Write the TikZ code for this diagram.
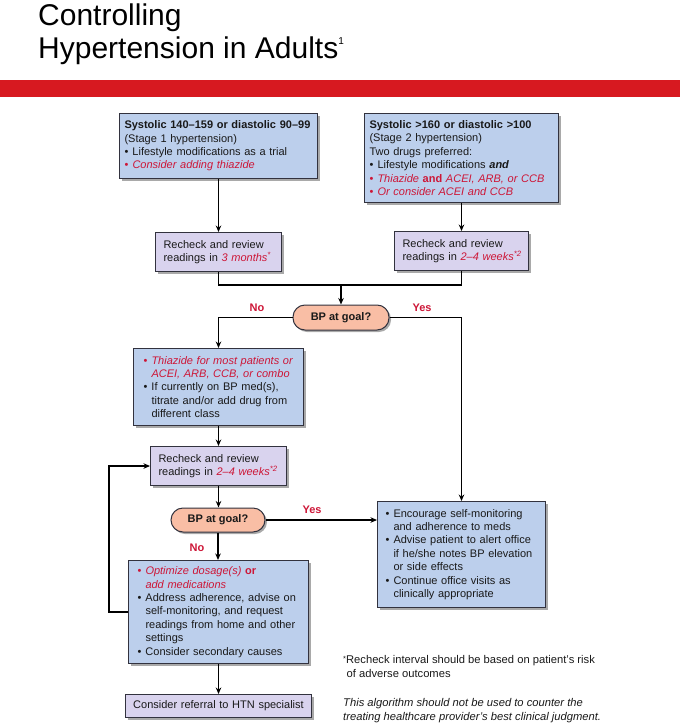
\documentclass[tikz,border=0pt]{standalone}
\usepackage{fontspec}
\setmainfont{Liberation Sans}
\usetikzlibrary{shadows,arrows.meta}
\definecolor{bluebox}{RGB}{188,207,236}
\definecolor{purplebox}{RGB}{217,211,238}
\definecolor{pillfill}{RGB}{249,190,165}
\definecolor{bord}{RGB}{50,50,62}
\definecolor{redtxt}{RGB}{205,22,55}
\definecolor{redbar}{RGB}{215,25,32}
\definecolor{bodytxt}{RGB}{25,25,25}
\newcommand\bul{\makebox[8pt][l]{\textbullet}}
\newcommand\ind{\hspace*{8pt}}
\newcommand\rd[1]{\textcolor{redtxt}{#1}}
\newcommand\supr[1]{\textsuperscript{#1}}
\newcommand\lne[1]{\mbox{#1}}
\begin{document}
\begin{tikzpicture}[x=1pt,y=-1pt,
  box/.style={draw=bord, line width=1pt, anchor=north west, align=left, inner ysep=0pt,
    font=\fontsize{11}{13.4}\selectfont, text=bodytxt,
    drop shadow={shadow xshift=2.5pt,shadow yshift=-2.5pt,fill=black!75,opacity=0.45}},
  bluebx/.style={box, fill=bluebox},
  purbx/.style={box, fill=purplebox},
  pill/.style={draw=bord, line width=1pt, fill=pillfill, rounded corners=12pt,
    font=\bfseries\fontsize{11}{13}\selectfont, text=bodytxt, inner sep=0pt,
    drop shadow={shadow xshift=2pt,shadow yshift=-2pt,fill=black!75,opacity=0.45}},
  arr/.style={line width=1.6pt, -{Stealth[length=6.5pt,width=5.5pt]}},
  ln/.style={line width=1.6pt},
  lab/.style={font=\bfseries\fontsize{11}{13}\selectfont, text=redtxt},
  note/.style={anchor=north west, align=left, inner sep=0pt, text=bodytxt, font=\fontsize{11.2}{14}\selectfont}
]
\useasboundingbox (0,0) rectangle (680,728);

% title
\node (t1) [anchor=base west, inner sep=0pt, font=\fontsize{30}{33}\selectfont] at (38,25) {Controlling};
\node (t2) [anchor=base west, inner sep=0pt, font=\fontsize{30}{33}\selectfont] at (38,58) {Hypertension in Adults\raisebox{14pt}{\fontsize{10}{10}\selectfont 1}};
\fill[redbar] (0,80) rectangle (680,97);

% boxes
\node (b1) [bluebx, inner xsep=5pt, text width=188pt, minimum height=65pt] at (119,113) {%
\lne{\textbf{Systolic 140–159 or diastolic 90–99}}\\
\lne{(Stage 1 hypertension)}\\
\lne{\bul Lifestyle modifications as a trial}\\
\lne{\rd{\bul\itshape Consider adding thiazide}}};

\node (b2) [bluebx, inner xsep=5pt, text width=184pt, minimum height=89pt] at (364,113) {%
\lne{\textbf{Systolic >160 or diastolic >100}}\\
\lne{(Stage 2 hypertension)}\\
\lne{Two drugs preferred:}\\
\lne{\bul Lifestyle modifications \textbf{\textit{and}}}\\
\lne{\rd{\bul\textit{Thiazide} \textbf{and} \textit{ACEI, ARB, or CCB}}}\\
\lne{\rd{\bul\textit{Or consider ACEI and CCB}}}};

\node (r1) [purbx, inner xsep=8pt, text width=110pt, minimum height=39pt] at (155,232) {%
\lne{Recheck and review}\\
\lne{readings in \rd{\itshape 3 months\supr{*}}}};

\node (r2) [purbx, inner xsep=8pt, text width=118pt, minimum height=39pt] at (394,231) {%
\lne{Recheck and review}\\
\lne{readings in \rd{\itshape 2–4 weeks\supr{*2}}}};

\coordinate (m) at (341,285);
\node (p1) [pill, minimum width=96pt, minimum height=25pt] at (341,317.5) {BP at goal?};

\node (b3) [bluebx, inner xsep=10pt, text width=150pt, minimum height=77pt] at (133,348) {%
\lne{\rd{\bul\itshape Thiazide for most patients or}}\\
\lne{\rd{\ind\itshape ACEI, ARB, CCB, or combo}}\\
\lne{\bul If currently on BP med(s),}\\
\lne{\ind titrate and/or add drug from}\\
\lne{\ind different class}};

\node (r3) [purbx, inner xsep=8pt, text width=120pt, minimum height=39pt] at (150,446) {%
\lne{Recheck and review}\\
\lne{readings in \rd{\itshape 2–4 weeks\supr{*2}}}};

\node (p2) [pill, minimum width=94pt, minimum height=24pt] at (218,520) {BP at goal?};

\node (e) [bluebx, inner xsep=8pt, text width=152pt, minimum height=106pt] at (377,501) {%
\lne{\bul Encourage self-monitoring}\\
\lne{\ind and adherence to meds}\\
\lne{\bul Advise patient to alert office}\\
\lne{\ind if he/she notes BP elevation}\\
\lne{\ind or side effects}\\
\lne{\bul Continue office visits as}\\
\lne{\ind clinically appropriate}};

\node (b4) [bluebx, inner xsep=9pt, text width=162pt, minimum height=103pt] at (128,560) {%
\lne{\rd{\bul\itshape Optimize dosage(s) \textbf{\upshape or}}}\\
\lne{\rd{\ind\itshape add medications}}\\
\lne{\bul Address adherence, advise on}\\
\lne{\ind self-monitoring, and request}\\
\lne{\ind readings from home and other}\\
\lne{\ind settings}\\
\lne{\bul Consider secondary causes}};

\node (rf) [purbx, align=center, inner xsep=6pt, text width=174pt, minimum height=23pt] at (125,694) {Consider referral to HTN specialist};

% notes
\node (n1) [note] at (343,655.5) {\lne{\raisebox{2.5pt}{\fontsize{7.5}{7.5}\selectfont *}Recheck interval should be based on patient’s risk}\\ \lne{\hspace*{3.5pt}of adverse outcomes}};
\node (n2) [note, font=\fontsize{11.2}{14}\selectfont\itshape] at (343,698.5) {\lne{This algorithm should not be used to counter the}\\ \lne{treating healthcare provider’s best clinical judgment.}};

% connectors
\draw[arr] (b1.south -| r1.north) -- (r1.north);
\draw[arr] (b2.south -| r2.north) -- (r2.north);
\draw[ln] (r1.south) |- (m) -| (r2.south);
\draw[arr] (m) -- (p1.north);
\draw[arr] (p1.west) -| (b3.north);
\draw[arr] (p1.east) -| (e.north);
\node (no1) [lab] at (257,308) {No};
\node (yes1) [lab] at (422,308) {Yes};
\draw[arr] (b3.south) -- (b3.south |- r3.north);
\draw[arr] (r3.south) -- (r3.south |- p2.north);
\draw[arr] (p2.east) -- (p2.east -| e.west);
\node (yes2) [lab] at (312,510) {Yes};
\draw[arr] (p2.south) -- (p2.south |- b4.north);
\node (no2) [lab] at (197,548) {No};
\draw[arr] (b4.south) -- (b4.south |- rf.north);
\draw[arr] (b4.west) -- ++(-19,0) |- (r3.west);
\end{tikzpicture}
\end{document}
